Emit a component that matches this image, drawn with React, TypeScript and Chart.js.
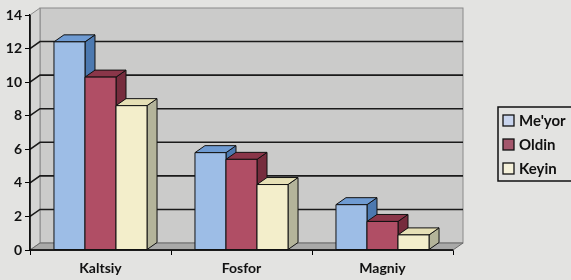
import React, { useEffect, useRef } from "react";
import { Chart, registerables } from "chart.js";

Chart.register(...registerables);

const categories = ["Kaltsiy", "Fosfor", "Magniy"];
const seriesNames = ["Me'yor", "Oldin", "Keyin"];
const meyor = [12.4, 5.8, 2.7];
const oldin = [10.3, 5.4, 1.7];
const keyin = [8.6, 3.9, 0.9];
const yMin = 0;
const yMax = 14;
const yStep = 2;

const frontColors = ["#9dbde6", "#b04e65", "#f3eecb"];
const topColors = ["#6f9bd2", "#8a3649", "#e6e0b6"];
const sideColors = ["#4c79b0", "#762c3d", "#b4b49a"];
const legendColors = ["#c9d5ee", "#a4566c", "#f5f1da"];

const DX = 10;
const DY = 7;
const FONT = "Lato, 'Open Sans', sans-serif";

const threeD = {
  id: "threeD",
  beforeDatasetsDraw(chart: any) {
    const { ctx, chartArea } = chart;
    const { left, right, top, bottom } = chartArea;
    const y = chart.scales.y;
    ctx.save();
    ctx.fillStyle = "#cbcbca";
    ctx.fillRect(left + DX, top - DY, right - left, bottom - top);
    ctx.strokeStyle = "#8a8a8a";
    ctx.lineWidth = 1;
    ctx.strokeRect(left + DX, top - DY, right - left, bottom - top);
    ctx.fillStyle = "#d4d4d3";
    ctx.beginPath();
    ctx.moveTo(left, top);
    ctx.lineTo(left + DX, top - DY);
    ctx.lineTo(left + DX, bottom - DY);
    ctx.lineTo(left, bottom);
    ctx.closePath();
    ctx.fill();
    ctx.strokeStyle = "#8a8a8a";
    ctx.stroke();
    ctx.fillStyle = "#a9a9a8";
    ctx.beginPath();
    ctx.moveTo(left, bottom);
    ctx.lineTo(right, bottom);
    ctx.lineTo(right + DX, bottom - DY);
    ctx.lineTo(left + DX, bottom - DY);
    ctx.closePath();
    ctx.fill();
    ctx.strokeStyle = "#6a6a6a";
    ctx.stroke();
    ctx.strokeStyle = "#1a1a1a";
    ctx.lineWidth = 1.6;
    for (let v = yMin + yStep; v < yMax; v += yStep) {
      const py = y.getPixelForValue(v);
      ctx.beginPath();
      ctx.moveTo(left, py);
      ctx.lineTo(left + DX, py - DY);
      ctx.lineTo(right + DX, py - DY);
      ctx.stroke();
    }
    ctx.strokeStyle = "#000";
    ctx.lineWidth = 1.5;
    ctx.beginPath();
    ctx.moveTo(left, top);
    ctx.lineTo(left, bottom);
    ctx.lineTo(right, bottom);
    ctx.stroke();
    ctx.restore();
  },
  afterDatasetsDraw(chart: any) {
    const { ctx } = chart;
    ctx.save();
    ctx.lineWidth = 1;
    ctx.strokeStyle = "#111";
    ctx.lineJoin = "round";
    chart.data.datasets.forEach((ds: any, di: number) => {
      const meta = chart.getDatasetMeta(di);
      meta.data.forEach((bar: any) => {
        const p = bar.getProps(["x", "y", "base", "width"], true);
        const x0 = p.x - p.width / 2;
        const x1 = p.x + p.width / 2;
        const yt = p.y;
        const yb = p.base;
        ctx.fillStyle = sideColors[di];
        ctx.beginPath();
        ctx.moveTo(x1, yt);
        ctx.lineTo(x1 + DX, yt - DY);
        ctx.lineTo(x1 + DX, yb - DY);
        ctx.lineTo(x1, yb);
        ctx.closePath();
        ctx.fill();
        ctx.stroke();
        ctx.fillStyle = topColors[di];
        ctx.beginPath();
        ctx.moveTo(x0, yt);
        ctx.lineTo(x0 + DX, yt - DY);
        ctx.lineTo(x1 + DX, yt - DY);
        ctx.lineTo(x1, yt);
        ctx.closePath();
        ctx.fill();
        ctx.stroke();
        ctx.fillStyle = frontColors[di];
        ctx.fillRect(x0, yt, x1 - x0, yb - yt);
        ctx.strokeRect(x0, yt, x1 - x0, yb - yt);
      });
    });
    ctx.restore();
  },
  afterDraw(chart: any) {
    const { ctx } = chart;
    ctx.save();
    const bx = 498;
    const by = 107;
    const bw = 90;
    const bh = 74;
    ctx.strokeStyle = "#111";
    ctx.lineWidth = 1.5;
    ctx.strokeRect(bx, by, bw, bh);
    ctx.font = `bold 15px ${FONT}`;
    ctx.textBaseline = "middle";
    const ys = [120, 144, 168];
    seriesNames.forEach((name, i) => {
      ctx.fillStyle = legendColors[i];
      ctx.fillRect(503, ys[i] - 5, 11, 11);
      ctx.lineWidth = 1.3;
      ctx.strokeRect(503, ys[i] - 5, 11, 11);
      ctx.fillStyle = "#111";
      ctx.fillText(name, 519, ys[i] + 1);
    });
    ctx.restore();
  },
};

export default function App() {
  const ref = useRef<HTMLCanvasElement | null>(null);
  useEffect(() => {
    if (!ref.current) return;
    const chart = new Chart(ref.current, {
      type: "bar",
      data: {
        labels: categories,
        datasets: [
          { label: seriesNames[0], data: meyor, backgroundColor: frontColors[0] },
          { label: seriesNames[1], data: oldin, backgroundColor: frontColors[1] },
          { label: seriesNames[2], data: keyin, backgroundColor: frontColors[2] },
        ],
      },
      options: {
        responsive: false,
        animation: false,
        devicePixelRatio: 1,
        layout: { padding: { top: 15, right: 118, bottom: 0, left: 0 } },
        datasets: { bar: { barPercentage: 1, categoryPercentage: 0.66 } },
        plugins: { legend: { display: false }, tooltip: { enabled: false } },
        scales: {
          x: {
            afterFit: (s: any) => { s.height = 30; },
            grid: { display: true, drawOnChartArea: false, drawTicks: true, tickLength: 5, color: "#000", offset: true },
            border: { display: true, color: "#000", width: 1.5 },
            ticks: { color: "#111", padding: 5, font: { family: FONT, size: 14, weight: "bold" } },
          },
          y: {
            min: yMin,
            max: yMax,
            afterFit: (s: any) => { s.width = 30; },
            grid: { display: true, drawOnChartArea: false, drawTicks: true, tickLength: 5, color: "#000" },
            border: { display: true, color: "#000", width: 1.5 },
            ticks: { stepSize: yStep, color: "#111", padding: 3, font: { family: FONT, size: 14, weight: "bold" } },
          },
        },
      },
      plugins: [threeD],
    });
    return () => chart.destroy();
  }, []);
  return (
    <div style={{ position: "absolute", left: 0, top: 0, width: 571, height: 280, background: "#e3e3e1", overflow: "hidden" }}>
      <canvas ref={ref} width={571} height={280} style={{ display: "block" }} />
    </div>
  );
}
